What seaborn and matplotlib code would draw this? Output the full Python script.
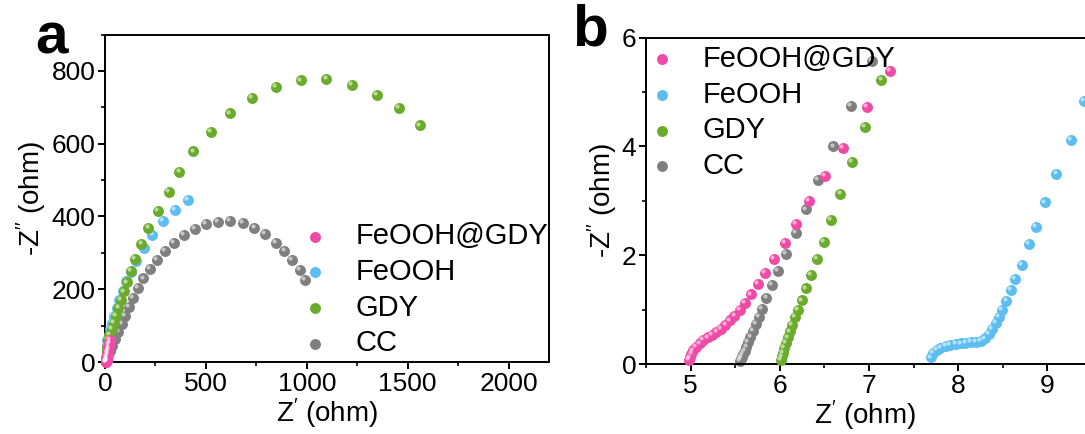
import matplotlib
matplotlib.use("Agg")
import matplotlib.pyplot as plt
import matplotlib.transforms as mtransforms
from matplotlib.ticker import MultipleLocator
import seaborn as sns
import pandas as pd

# ---- data: panel a (full Nyquist) ----
names = ["FeOOH@GDY", "FeOOH", "GDY", "CC"]
colors = {"FeOOH@GDY": "#ef4aa6", "FeOOH": "#5bbdf0", "GDY": "#6aab2c", "CC": "#7f7f7f"}
zorders = {"FeOOH@GDY": 6, "FeOOH": 3, "GDY": 4, "CC": 2}

a_fg_x = [5, 5.5, 6, 6.5, 7, 8, 9, 10, 11, 12, 13.5, 15, 16.5, 18, 20, 22, 24]
a_fg_y = [0.2, 1, 2, 3, 4.5, 6.5, 9, 12, 15, 19, 24, 29, 34, 40, 46, 53, 60]

a_fe_x = [412, 345, 286, 235, 191, 155, 128, 106, 87, 71, 57, 45, 35, 26, 18, 12, 9, 7.8, 7.7, 7.7]
a_fe_y = [445, 419, 388, 350, 312, 278, 248, 222, 195, 170, 148, 127, 108, 90, 74, 60, 45, 30, 15, 3]

a_gdy_x = [1560, 1456, 1346, 1225, 1097, 970, 845, 728, 618, 523, 438, 369, 315, 262, 215,
           180, 150, 128, 110, 95, 80, 66, 54, 43, 33, 22, 14, 10, 8, 7, 6]
a_gdy_y = [650, 698, 735, 762, 777, 774, 757, 725, 683, 632, 579, 523, 467, 416, 368,
           324, 284, 250, 219, 194, 171, 148, 127, 108, 90, 74, 60, 45, 30, 15, 2]

a_cc_x = [991, 965, 928, 889, 845, 792, 740, 682, 620, 560, 500, 444, 389, 341, 297, 258,
          223, 190, 164, 139, 120, 100, 82, 66, 50, 36, 25, 16, 10, 6]
a_cc_y = [226, 253, 281, 305, 328, 352, 368, 383, 387, 386, 379, 366, 349, 328, 306, 281,
          256, 230, 203, 177, 152, 127, 104, 82, 62, 44, 30, 18, 8, 2]

# ---- data: panel b (high-frequency zoom) ----
b_fg_x = [7.23, 6.98, 6.71, 6.51, 6.33, 6.18, 6.06, 5.93, 5.83, 5.75, 5.68, 5.61, 5.55, 5.49,
          5.44, 5.39, 5.34, 5.29, 5.24, 5.19, 5.14, 5.10, 5.06, 5.03, 5.01, 4.99, 4.98]
b_fg_y = [5.39, 4.73, 3.97, 3.45, 3.00, 2.58, 2.23, 1.93, 1.68, 1.47, 1.28, 1.12, 1.00, 0.89,
          0.80, 0.72, 0.65, 0.59, 0.54, 0.49, 0.44, 0.38, 0.32, 0.25, 0.18, 0.12, 0.08]

b_fe_x = [9.41, 9.26, 9.10, 8.97, 8.87, 8.79, 8.71, 8.64, 8.59, 8.54, 8.49, 8.46, 8.42, 8.38,
          8.34, 8.30, 8.25, 8.20, 8.14, 8.08, 8.03, 7.97, 7.91, 7.86, 7.80, 7.76, 7.72, 7.69]
b_fe_y = [4.84, 4.12, 3.49, 2.97, 2.52, 2.21, 1.82, 1.57, 1.36, 1.16, 0.99, 0.87, 0.75, 0.64,
          0.55, 0.47, 0.43, 0.41, 0.40, 0.39, 0.38, 0.37, 0.35, 0.33, 0.30, 0.26, 0.20, 0.12]

b_gdy_x = [7.14, 6.95, 6.81, 6.68, 6.575, 6.49, 6.42, 6.35, 6.295, 6.245, 6.205, 6.17, 6.14,
           6.115, 6.09, 6.07, 6.05, 6.035, 6.02, 6.01]
b_gdy_y = [5.22, 4.36, 3.72, 3.13, 2.65, 2.24, 1.93, 1.64, 1.39, 1.17, 1.00, 0.86, 0.72,
           0.60, 0.49, 0.39, 0.29, 0.21, 0.14, 0.08]

b_cc_x = [7.03, 6.80, 6.60, 6.43, 6.29, 6.18, 6.07, 5.98, 5.91, 5.85, 5.80, 5.765, 5.73, 5.70,
          5.67, 5.645, 5.625, 5.605, 5.59, 5.575, 5.565, 5.555]
b_cc_y = [5.57, 4.74, 4.00, 3.38, 2.84, 2.41, 2.03, 1.71, 1.46, 1.22, 1.01, 0.86, 0.73, 0.61,
          0.50, 0.40, 0.32, 0.24, 0.18, 0.13, 0.09, 0.06]

panel_a = {"FeOOH@GDY": (a_fg_x, a_fg_y), "FeOOH": (a_fe_x, a_fe_y),
           "GDY": (a_gdy_x, a_gdy_y), "CC": (a_cc_x, a_cc_y)}
panel_b = {"FeOOH@GDY": (b_fg_x, b_fg_y), "FeOOH": (b_fe_x, b_fe_y),
           "GDY": (b_gdy_x, b_gdy_y), "CC": (b_cc_x, b_cc_y)}

sns.set_style("ticks")
plt.rcParams["font.family"] = ["Liberation Sans", "DejaVu Sans"]
plt.rcParams["mathtext.fontset"] = "custom"
plt.rcParams["mathtext.rm"] = "Liberation Sans"
plt.rcParams["mathtext.it"] = "Liberation Sans"
plt.rcParams["text.color"] = "black"
plt.rcParams["axes.labelcolor"] = "black"
plt.rcParams["xtick.color"] = "black"
plt.rcParams["ytick.color"] = "black"

W, H = 1085, 434
fig = plt.figure(figsize=(W / 100, H / 100), dpi=100)
# axes boxes in pixels: left, top, right, bottom
ax_a = fig.add_axes([105 / W, 1 - 362 / H, 444 / W, 327.5 / H])
ax_b = fig.add_axes([646 / W, 1 - 364 / H, (W - 646) / W, 326.5 / H])

tick_fs = 19
label_fs = 20
leg_fs = 21


def draw_panel(ax, series):
    for name in names:
        x, y = series[name]
        df = pd.DataFrame({"x": x, "y": y})
        sns.scatterplot(data=df, x="x", y="y", ax=ax, color=colors[name], s=62,
                        linewidth=0, label=name, zorder=zorders[name], clip_on=False)
        # small highlight to imitate the shaded balls
        hl = mtransforms.offset_copy(ax.transData, fig=fig, x=-1.3, y=1.3, units="points")
        ax.scatter(x, y, s=9, color="white", alpha=0.55, linewidth=0,
                   transform=hl, zorder=zorders[name] + 0.5, clip_on=False)
    for sp in ax.spines.values():
        sp.set_linewidth(1.4)
        sp.set_color("black")
    ax.tick_params(which="major", direction="out", length=5, width=1.4,
                   labelsize=tick_fs, colors="black", labelcolor="black", pad=2)
    ax.tick_params(which="minor", direction="out", length=3, width=1.2, colors="black")
    ax.set_xlabel(r"Z$^{\prime}$ (ohm)", fontsize=label_fs, labelpad=0, color="black")
    ax.set_ylabel(r"-Z$^{\prime\prime}$ (ohm)", fontsize=label_fs, labelpad=2, color="black")


draw_panel(ax_a, panel_a)
ax_a.set_xlim(0, 2200)
ax_a.set_ylim(0, 900)
ax_a.xaxis.set_major_locator(MultipleLocator(500))
ax_a.xaxis.set_minor_locator(MultipleLocator(250))
ax_a.yaxis.set_major_locator(MultipleLocator(200))
ax_a.yaxis.set_minor_locator(MultipleLocator(100))

draw_panel(ax_b, panel_b)
# panel b is cut off at the right edge of the figure
ax_b.set_xlim(4.5, 4.5 + (W - 646) / 89.2)
ax_b.set_ylim(0, 6)
ax_b.spines["right"].set_visible(False)
ax_b.xaxis.set_major_locator(MultipleLocator(1))
ax_b.xaxis.set_minor_locator(MultipleLocator(0.5))
ax_b.yaxis.set_major_locator(MultipleLocator(2))
ax_b.yaxis.set_minor_locator(MultipleLocator(1))

leg_kw = dict(frameon=False, fontsize=leg_fs, handlelength=1.4, handletextpad=0.7,
              labelspacing=0.26, borderpad=0, borderaxespad=0, scatterpoints=1,
              loc="upper left", bbox_transform=fig.transFigure, labelcolor="black")
ax_a.legend(bbox_to_anchor=(294.5 / W, 1 - 222.5 / H), **leg_kw)
ax_b.legend(bbox_to_anchor=(641.5 / W, 1 - 45 / H), **leg_kw)

fig.text(35 / W, 1 - 53 / H, "a", fontsize=42, fontweight="bold", va="baseline", color="black")
fig.text(572 / W, 1 - 45 / H, "b", fontsize=42, fontweight="bold", va="baseline", color="black")

fig.savefig("out.png", dpi=100)
